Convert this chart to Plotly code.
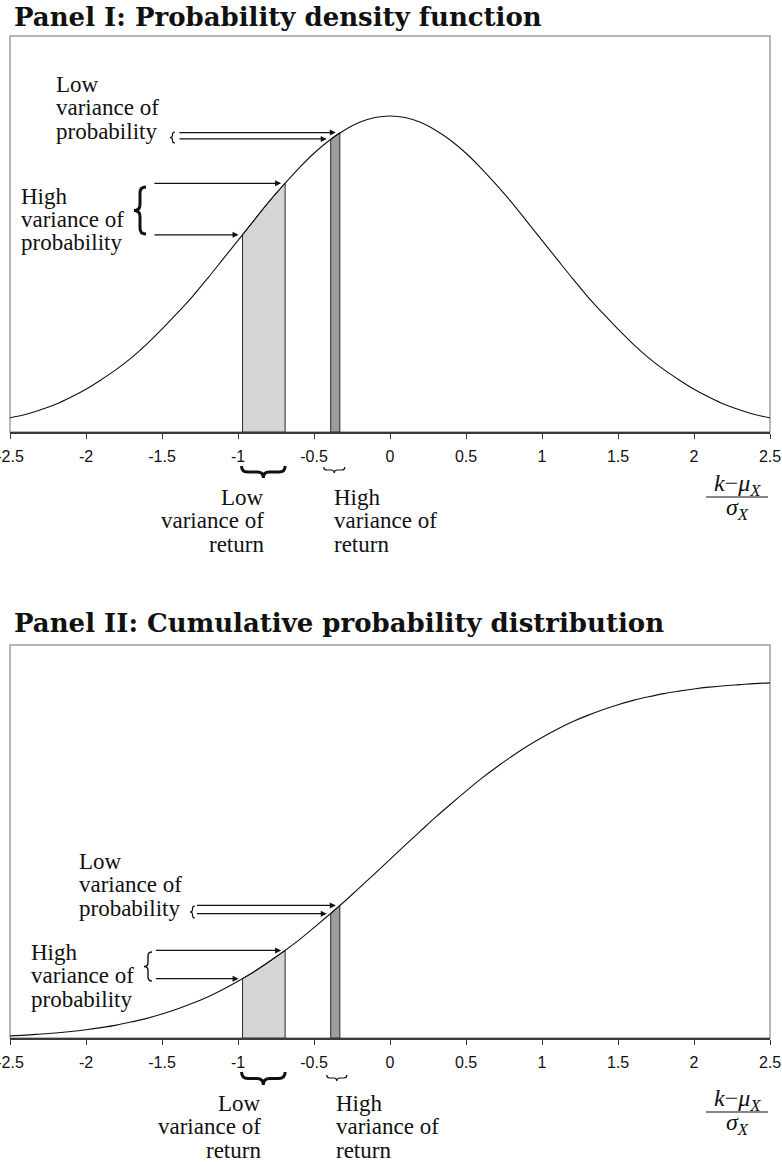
import plotly.graph_objects as go

W, H = 782, 1162

# ---------------- data ----------------
z_grid = [-2.5, -2.4, -2.3, -2.2, -2.1, -2.0, -1.9, -1.8, -1.7, -1.6, -1.5, -1.4, -1.3,
          -1.2, -1.1, -1.0, -0.9, -0.8, -0.7, -0.6, -0.5, -0.4, -0.3, -0.2, -0.1, 0.0,
          0.1, 0.2, 0.3, 0.4, 0.5, 0.6, 0.7, 0.8, 0.9, 1.0, 1.1, 1.2, 1.3, 1.4, 1.5,
          1.6, 1.7, 1.8, 1.9, 2.0, 2.1, 2.2, 2.3, 2.4, 2.5]
pdf_vals = [0.018, 0.022, 0.028, 0.035, 0.044, 0.054, 0.066, 0.079, 0.094, 0.111, 0.130,
            0.150, 0.171, 0.194, 0.218, 0.242, 0.266, 0.290, 0.312, 0.333, 0.352, 0.368,
            0.381, 0.391, 0.397, 0.399, 0.397, 0.391, 0.381, 0.368, 0.352, 0.333, 0.312,
            0.290, 0.266, 0.242, 0.218, 0.194, 0.171, 0.150, 0.130, 0.111, 0.094, 0.079,
            0.066, 0.054, 0.044, 0.035, 0.028, 0.022, 0.018]
cdf_vals = [0.006, 0.008, 0.011, 0.014, 0.018, 0.023, 0.029, 0.036, 0.045, 0.055, 0.067,
            0.081, 0.097, 0.115, 0.136, 0.159, 0.184, 0.212, 0.242, 0.274, 0.309, 0.345,
            0.382, 0.421, 0.460, 0.500, 0.540, 0.579, 0.618, 0.655, 0.691, 0.726, 0.758,
            0.788, 0.816, 0.841, 0.864, 0.885, 0.903, 0.919, 0.933, 0.945, 0.955, 0.964,
            0.971, 0.977, 0.982, 0.986, 0.989, 0.992, 0.994]

# shaded bands (edges along the x axis)
light_band = [-0.97, -0.69]
dark_band = [-0.39, -0.33]
# curve heights at the band edges
pdf_light_edges = [0.249, 0.314]
pdf_dark_edges = [0.370, 0.378]
cdf_light_edges = [0.166, 0.245]
cdf_dark_edges = [0.348, 0.371]

tick_vals = [-2.5, -2, -1.5, -1, -0.5, 0, 0.5, 1, 1.5, 2, 2.5]
tick_text = ["-2.5", "-2", "-1.5", "-1", "-0.5", "0", "0.5", "1", "1.5", "2", "2.5"]

# ---------------- layout helpers ----------------
XL, XR = 10, 770                 # plot area left/right (px)
P1_TOP, P1_AX = 36, 432          # panel I top / axis (px)
P2_TOP, P2_AX = 645, 1038        # panel II top / axis (px)


def px_x(v):
    return XL + (v + 2.5) / 5.0 * (XR - XL)


def pp(x, y):
    return f"{x / W:.5f},{1 - y / H:.5f}"


def vbrace(xt, y0, y1, w):
    mid = (y0 + y1) / 2
    xm = xt + w / 2
    q = w / 2
    return (f"M{pp(xt + w, y0)} Q{pp(xm, y0)} {pp(xm, y0 + q)} L{pp(xm, mid - q)} "
            f"Q{pp(xm, mid)} {pp(xt, mid)} Q{pp(xm, mid)} {pp(xm, mid + q)} "
            f"L{pp(xm, y1 - q)} Q{pp(xm, y1)} {pp(xt + w, y1)}")


def hbrace(x0, x1, yt, d):
    mid = (x0 + x1) / 2
    ym = yt + d / 2
    q = d / 2
    return (f"M{pp(x0, yt)} Q{pp(x0, ym)} {pp(x0 + q, ym)} L{pp(mid - q, ym)} "
            f"Q{pp(mid, ym)} {pp(mid, yt + d)} Q{pp(mid, ym)} {pp(mid + q, ym)} "
            f"L{pp(x1 - q, ym)} Q{pp(x1, ym)} {pp(x1, yt)}")


def band_poly(band, edges, curve):
    xs = [band[0], band[0]]
    ys = [0, edges[0]]
    for z, c in zip(z_grid, curve):
        if band[0] < z < band[1]:
            xs.append(z)
            ys.append(c)
    xs += [band[1], band[1], band[0]]
    ys += [edges[1], 0, 0]
    return xs, ys


fig = go.Figure()

LIGHT = "#d4d5d7"
DARK = "#9c9d9f"
EDGE = "#2a2a2a"

for xa, ya, curve, le, de in [("x", "y", pdf_vals, pdf_light_edges, pdf_dark_edges),
                              ("x2", "y2", cdf_vals, cdf_light_edges, cdf_dark_edges)]:
    bx, by = band_poly(light_band, le, curve)
    fig.add_trace(go.Scatter(x=bx, y=by, xaxis=xa, yaxis=ya, mode="lines", fill="toself",
                             fillcolor=LIGHT, line=dict(color=EDGE, width=1),
                             hoverinfo="skip"))
    bx, by = band_poly(dark_band, de, curve)
    fig.add_trace(go.Scatter(x=bx, y=by, xaxis=xa, yaxis=ya, mode="lines", fill="toself",
                             fillcolor=DARK, line=dict(color=EDGE, width=1),
                             hoverinfo="skip"))
    fig.add_trace(go.Scatter(x=z_grid, y=curve, xaxis=xa, yaxis=ya, mode="lines",
                             line=dict(color="#111111", width=1.1, shape="spline",
                                       smoothing=1.0),
                             hoverinfo="skip"))

xdom = [XL / W, XR / W]
axis_common = dict(range=[-2.5, 2.5], tickvals=tick_vals, ticktext=tick_text,
                   showgrid=False, zeroline=False, showline=True, linecolor="#3a3a3a",
                   linewidth=2, ticks="outside", ticklen=5, tickwidth=1.3,
                   tickcolor="#3a3a3a", ticklabeloverflow="allow", ticklabelstandoff=4,
                   automargin=False,
                   tickfont=dict(family="Liberation Sans, Arial, sans-serif", size=16,
                                 color="#111111"),
                   fixedrange=True)

fig.update_layout(
    width=W, height=H, margin=dict(l=0, r=0, t=0, b=0, autoexpand=False),
    paper_bgcolor="white", plot_bgcolor="white", showlegend=False,
    xaxis=dict(domain=xdom, anchor="y", **axis_common),
    yaxis=dict(domain=[1 - P1_AX / H, 1 - P1_TOP / H], range=[0, 0.5], visible=False,
               fixedrange=True),
    xaxis2=dict(domain=xdom, anchor="y2", **axis_common),
    yaxis2=dict(domain=[1 - P2_AX / H, 1 - P2_TOP / H], range=[0, 1.1], visible=False,
                fixedrange=True),
)

shapes = []
# frames (gray box)
for xr, yr in [("x domain", "y domain"), ("x2 domain", "y2 domain")]:
    shapes.append(dict(type="rect", xref=xr, yref=yr, x0=0, x1=1, y0=0, y1=1,
                       line=dict(color="#a0a0a0", width=1.5), layer="below"))

# braces
BR = "#111111"
# Panel I
shapes.append(dict(type="path", xref="paper", yref="paper",
                   path=vbrace(134, 187, 234, 12), line=dict(color=BR, width=3)))
shapes.append(dict(type="path", xref="paper", yref="paper",
                   path=vbrace(170, 132, 143, 5), line=dict(color=BR, width=1.2)))
shapes.append(dict(type="path", xref="paper", yref="paper",
                   path=hbrace(px_x(light_band[0]) - 1, px_x(light_band[1]), P1_AX + 34, 12),
                   line=dict(color=BR, width=3)))
shapes.append(dict(type="path", xref="paper", yref="paper",
                   path=hbrace(px_x(dark_band[0]) - 7, px_x(dark_band[1]) + 5, P1_AX + 35, 6),
                   line=dict(color=BR, width=1.2)))
# Panel II
shapes.append(dict(type="path", xref="paper", yref="paper",
                   path=vbrace(144, 952, 981, 8), line=dict(color=BR, width=1.4)))
shapes.append(dict(type="path", xref="paper", yref="paper",
                   path=vbrace(190, 906, 918, 5), line=dict(color=BR, width=1.2)))
shapes.append(dict(type="path", xref="paper", yref="paper",
                   path=hbrace(px_x(light_band[0]) - 1, px_x(light_band[1]), P2_AX + 34, 13),
                   line=dict(color=BR, width=3)))
shapes.append(dict(type="path", xref="paper", yref="paper",
                   path=hbrace(px_x(dark_band[0]) - 4, px_x(dark_band[1]) + 7, P2_AX + 37, 6),
                   line=dict(color=BR, width=1.2)))

# fraction bars
for yb in [497, 1112]:
    shapes.append(dict(type="line", xref="paper", yref="paper",
                       x0=706 / W, x1=768 / W, y0=1 - yb / H, y1=1 - yb / H,
                       line=dict(color="#111111", width=1.2)))
fig.update_layout(shapes=shapes)

ann = []
SERIF = "Liberation Serif, Times New Roman, serif"


def txt(s, x, y, anchor="left", size=23, family=SERIF):
    ann.append(dict(text=s, xref="paper", yref="paper", x=x / W, y=1 - y / H,
                    xanchor=anchor, yanchor="middle", showarrow=False,
                    font=dict(family=family, size=size, color="#111111")))


def lines(arr, x, y0, anchor="left", step=23.5):
    for i, s in enumerate(arr):
        txt(s, x, y0 + i * step, anchor)


# titles
txt("<b>Panel I: Probability density function</b>", 12, 17, size=26,
    family="DejaVu Serif, serif")
txt("<b>Panel II: Cumulative probability distribution</b>", 12, 623, size=26,
    family="DejaVu Serif, serif")

# Panel I labels
lines(["Low", "variance of", "probability"], 54, 84)
lines(["High", "variance of", "probability"], 19, 196)
lines(["Low", "variance of", "return"], 266, 497, anchor="right")
lines(["High", "variance of", "return"], 332, 497)
# Panel II labels
lines(["Low", "variance of", "probability"], 77, 861)
lines(["High", "variance of", "probability"], 29, 952)
lines(["Low", "variance of", "return"], 263, 1103, anchor="right")
lines(["High", "variance of", "return"], 334, 1103)

# fraction labels
for yn, yd in [(485, 509), (1100, 1124)]:
    txt("<i>k</i>−<i>μ</i><sub><i>X</i></sub>", 737, yn, anchor="center", size=24)
    txt("<i>σ</i><sub><i>X</i></sub>", 737, yd, anchor="center", size=24)

# arrows (tail x positions are layout; heads at the band edges on the curve)
arrow_specs = [
    ("x", "y", -1.395, dark_band, pdf_dark_edges),
    ("x", "y", -1.56, light_band, pdf_light_edges),
    ("x2", "y2", -1.28, dark_band, cdf_dark_edges),
    ("x2", "y2", -1.55, light_band, cdf_light_edges),
]
for xa, ya, tail, band, edges in arrow_specs:
    for bx, by in zip(band, edges):
        ann.append(dict(text="", xref=xa, yref=ya, axref=xa, ayref=ya,
                        x=bx, y=by, ax=tail, ay=by, showarrow=True,
                        arrowhead=2, arrowsize=1, arrowwidth=1.2, arrowcolor="#111111",
                        standoff=4))

fig.update_layout(annotations=ann)

fig.write_html("out.html")
